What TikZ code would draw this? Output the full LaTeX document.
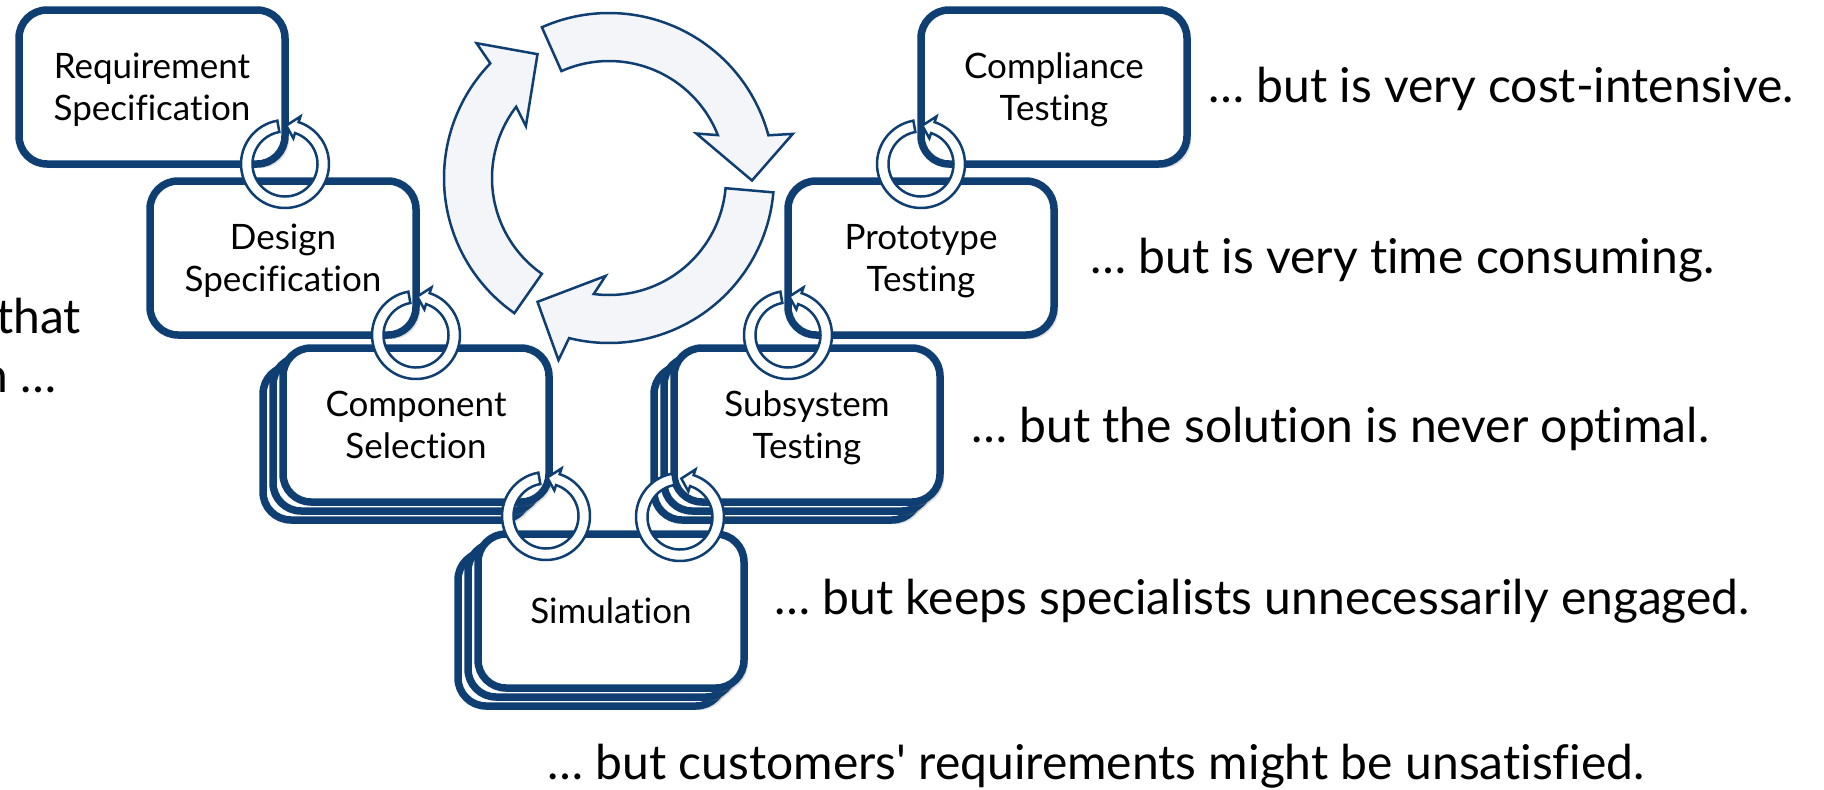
\documentclass[tikz,border=0pt]{standalone}
\usepackage{fontspec}
\newfontfamily\latofont{Lato}[Ligatures=NoCommon]
\usetikzlibrary{shadows,calc}
\definecolor{cycblue}{RGB}{15,63,114}
\definecolor{cycfill}{RGB}{243,245,248}
\newcommand\boxtext[1]{\raisebox{-4pt}[\height][\depth]{\begin{tabular}{@{}c@{}}#1\end{tabular}}}
\tikzset{
  stepbox/.style={draw=cycblue, line width=7.5pt, fill=white, rounded corners=28pt,
    minimum width=266pt, minimum height=154pt, inner sep=0pt, outer sep=0pt,
    font=\latofont\fontsize{35}{42}\selectfont,
    drop shadow={opacity=.25, shadow xshift=4pt, shadow yshift=-4pt}},
  ringarrow/.style={draw=cycblue, line width=2.5pt, fill=white},
  cycarrow/.style={draw=cycblue, line width=2.5pt, fill=cycfill, line join=miter},
  remark/.style={anchor=base west, inner sep=0pt, font=\latofont\fontsize{48}{56}\selectfont}
}
\begin{document}
\begin{tikzpicture}[x=1pt, y=-1pt]
    \useasboundingbox[fill=white] (0,0) rectangle (1824,790);
    \coordinate (cCycPt) at (609,178);
    % big cycle
    \foreach \t in {-114,5,125}
      \draw[cycarrow, shift={(cCycPt)}] (\t:117) -- (\t:165)
        arc[start angle=\t, end angle=\t+99, radius=165] -- (\t+100.5:189)
        -- (\t+115:143) -- (\t+87:98) -- (\t+92.5:117)
        arc[start angle=\t+92.5, end angle=\t, radius=117] -- cycle;
    % stacks behind
    \foreach \v/\x/\y in {nCS/416/425, nSim/611/611, nSub/807/425}{
      \node[stepbox] (\v2) at (\x-20,\y+18) {};
      \node[stepbox] (\v1) at (\x-10,\y+9) {};
    }
    \node[stepbox] (nRS) at (152,87) {\boxtext{Requirement\\Specification}};
    \node[stepbox] (nDS) at (283,258) {\boxtext{Design\\Specification}};
    \node[stepbox] (nCS) at (416,425) {\boxtext{Component\\Selection}};
    \node[stepbox] (nSim) at (611,611) {\boxtext{Simulation}};
    \node[stepbox] (nSub) at (807,425) {\boxtext{Subsystem\\Testing}};
    \node[stepbox] (nPT) at (921,258) {\boxtext{Prototype\\Testing}};
    \node[stepbox] (nCT) at (1054,87) {\boxtext{Compliance\\Testing}};
    \coordinate (cR1Pt) at (nRS.south east);
    \coordinate (cR2Pt) at (nDS.south east);
    \coordinate (cR3Pt) at ($(nCS.south east)+(-3,14)$);
    \coordinate (cR4Pt) at ($(nSub.south west)+(6,15)$);
    \coordinate (cR5Pt) at (nPT.south west);
    \coordinate (cR6Pt) at (nCT.south west);
    % linking rings
    \foreach \v in {cR1Pt,cR2Pt,cR3Pt,cR4Pt,cR5Pt,cR6Pt}
      \draw[ringarrow, shift={(\v)}] (260:32.5) -- (260:44)
        arc[start angle=260, end angle=-72, radius=44] -- (-72:50)
        -- (-88:38.5) -- (-72:27) -- (-72:32.5)
        arc[start angle=-72, end angle=260, radius=32.5] -- cycle;
\foreach \v/\x/\y/\t in 
{tCost/1208/102/{… but is very cost-intensive.},
    tTime/1090/273/{… but is very time consuming.},
    tOpt/971/442/{… but the solution is never optimal.},
    tSpec/774/614/{… but keeps specialists unnecessarily engaged.},
    tCust/547/779/{… but customers' requirements might be unsatisfied.}
}
{
    \node[remark] (\v) at (\x,\y) {\t};
};
    \node[remark, anchor=base east] (tThat) at (81,333) {that};
    \node[remark, anchor=base east] (tN) at (57,392) {n …};
\end{tikzpicture}
\end{document}
